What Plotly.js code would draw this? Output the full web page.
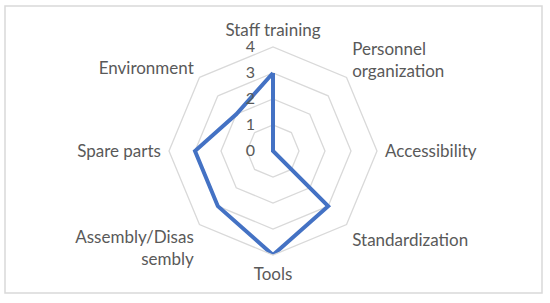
<!DOCTYPE html>
<html>
<head>
<meta charset="utf-8">
<script src="https://cdn.plot.ly/plotly-3.0.1.min.js"></script>
<style>html,body{margin:0;padding:0;background:#fff;}#chart{width:550px;height:303px;}</style>
</head>
<body>
<div id="chart"></div>
<script>
const categories = ["Staff training", "Personnel organization", "Accessibility", "Standardization", "Tools", "Assembly/Disassembly", "Spare parts", "Environment"];
const tickLabels = ["Staff training", "Personnel<br>organization", "Accessibility", "Standardization", "Tools", "Assembly/Disas<br>sembly", "Spare parts", "Environment"];
const values = [3, 0, 0, 3, 4, 3, 3, 2];
const radialTicks = [0, 1, 2, 3, 4];

const rClosed = values.concat([values[0]]);
const thetaClosed = categories.concat([categories[0]]);

const trace = {
  type: "scatterpolar",
  r: rClosed,
  theta: thetaClosed,
  mode: "lines",
  line: {color: "#4472C4", width: 4},
  hoverinfo: "skip",
  showlegend: false
};

const gridColor = "#d9d9d9";
const textColor = "#595959";
const angFont = {family: "Lato, 'Open Sans', sans-serif", size: 17, color: textColor};
const radFont = {family: "Lato, 'Open Sans', sans-serif", size: 16, color: textColor};

const layout = {
  width: 550,
  height: 303,
  margin: {l: 0, r: 0, t: 0, b: 0},
  paper_bgcolor: "#fff",
  showlegend: false,
  font: angFont,
  polar: {
    domain: {x: [(273 - 104) / 550, (273 + 104) / 550], y: [48 / 303, 256 / 303]},
    bgcolor: "#fff",
    gridshape: "linear",
    angularaxis: {
      direction: "clockwise",
      rotation: 90,
      categoryorder: "array",
      categoryarray: categories,
      tickvals: categories,
      ticktext: tickLabels,
      showgrid: false,
      showline: true,
      linecolor: gridColor,
      linewidth: 1.3,
      ticks: "outside",
      ticklen: 4,
      tickcolor: "rgba(0,0,0,0)",
      tickfont: angFont
    },
    radialaxis: {
      range: [0, 4],
      angle: 90,
      tickangle: 90,
      tickvals: radialTicks,
      ticktext: radialTicks.map(String),
      showline: false,
      ticks: "outside",
      ticklen: 12,
      tickcolor: "rgba(0,0,0,0)",
      gridcolor: gridColor,
      gridwidth: 1.3,
      side: "counterclockwise",
      tickfont: radFont
    }
  },
  shapes: [{
    type: "rect", xref: "paper", yref: "paper",
    x0: 5 / 550, x1: 542 / 550, y0: 10 / 303, y1: 297 / 303,
    line: {color: gridColor, width: 1.5}
  }]
};

Plotly.newPlot("chart", [trace], layout, {displayModeBar: false, staticPlot: true});
</script>
</body>
</html>
